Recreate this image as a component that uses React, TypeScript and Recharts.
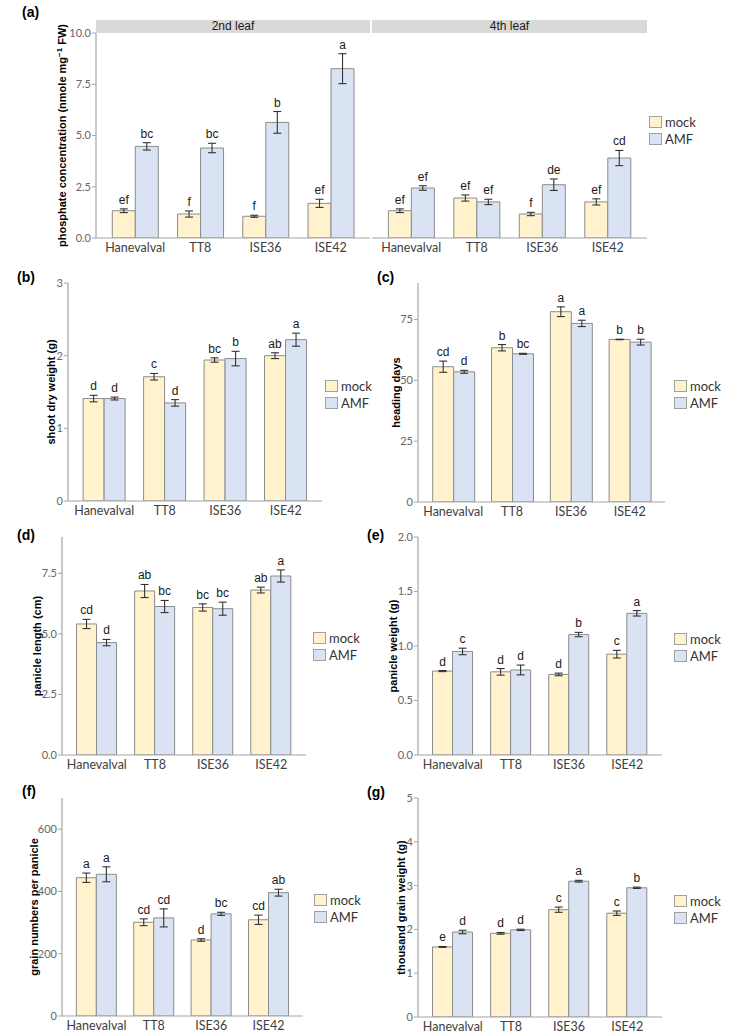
import type { ReactNode } from "react"
import { BarChart, Bar, XAxis, YAxis, ErrorBar, LabelList } from "recharts"

const genotypes = ["Hanevalval", "TT8", "ISE36", "ISE42"]

// (a) phosphate, 2nd leaf
const pi2Mock = [1.33, 1.17, 1.06, 1.69]
const pi2MockSe = [0.09, 0.15, 0.05, 0.2]
const pi2Amf = [4.47, 4.39, 5.64, 8.26]
const pi2AmfSe = [0.18, 0.23, 0.53, 0.73]
const pi2MockSig = ["ef", "f", "f", "ef"]
const pi2AmfSig = ["bc", "bc", "b", "a"]

// (a) phosphate, 4th leaf
const pi4Mock = [1.33, 1.95, 1.17, 1.76]
const pi4MockSe = [0.09, 0.15, 0.08, 0.15]
const pi4Amf = [2.44, 1.76, 2.6, 3.9]
const pi4AmfSe = [0.11, 0.13, 0.28, 0.37]
const pi4MockSig = ["ef", "ef", "f", "ef"]
const pi4AmfSig = ["ef", "ef", "de", "cd"]

// (b) shoot dry weight
const sdwMock = [1.41, 1.71, 1.94, 2.0]
const sdwMockSe = [0.045, 0.045, 0.03, 0.04]
const sdwAmf = [1.41, 1.35, 1.96, 2.22]
const sdwAmfSe = [0.02, 0.045, 0.1, 0.09]
const sdwMockSig = ["d", "c", "bc", "ab"]
const sdwAmfSig = ["d", "d", "b", "a"]

// (c) heading days
const hdMock = [55.6, 63.4, 78.2, 66.8]
const hdMockSe = [2.3, 1.3, 2.0, 0.1]
const hdAmf = [53.5, 60.9, 73.4, 65.7]
const hdAmfSe = [0.6, 0.2, 1.3, 1.2]
const hdMockSig = ["cd", "b", "a", "b"]
const hdAmfSig = ["d", "bc", "a", "b"]

// (d) panicle length
const plMock = [5.41, 6.77, 6.09, 6.81]
const plMockSe = [0.19, 0.27, 0.15, 0.12]
const plAmf = [4.64, 6.13, 6.04, 7.39]
const plAmfSe = [0.13, 0.25, 0.27, 0.25]
const plMockSig = ["cd", "ab", "bc", "ab"]
const plAmfSig = ["d", "bc", "bc", "a"]

// (e) panicle weight
const pwMock = [0.77, 0.763, 0.739, 0.925]
const pwMockSe = [0.005, 0.03, 0.012, 0.035]
const pwAmf = [0.95, 0.78, 1.105, 1.3]
const pwAmfSe = [0.03, 0.045, 0.02, 0.025]
const pwMockSig = ["d", "d", "d", "c"]
const pwAmfSig = ["c", "d", "b", "a"]

// (f) grain numbers per panicle
const gnMock = [444, 301, 244, 309]
const gnMockSe = [15, 11, 4, 15]
const gnAmf = [455, 315, 328, 396]
const gnAmfSe = [24, 29, 5, 11]
const gnMockSig = ["a", "cd", "d", "cd"]
const gnAmfSig = ["a", "cd", "bc", "ab"]

// (g) thousand grain weight
const tgwMock = [1.6, 1.91, 2.45, 2.37]
const tgwMockSe = [0.01, 0.02, 0.06, 0.05]
const tgwAmf = [1.94, 1.99, 3.1, 2.95]
const tgwAmfSe = [0.04, 0.015, 0.02, 0.015]
const tgwMockSig = ["e", "d", "c", "c"]
const tgwAmfSig = ["d", "d", "a", "b"]

const MOCK = "#fff2cc"
const AMF = "#dae3f3"
const EDGE = "#8c8c8c"
const AXIS = "#a6a6a6"
const TICK_FONT = "Lato, 'Open Sans', sans-serif"
const SANS = "'Liberation Sans', Arial, sans-serif"

type Series = { v: number[]; se: number[]; sig: string[] }

const makeRows = (mock: Series, amf: Series) =>
  genotypes.map((g, i) => ({
    name: g,
    mock: mock.v[i],
    mockSe: mock.se[i],
    amf: amf.v[i],
    amfSe: amf.se[i],
  }))

// letter placed just above the error bar, using the bar's own pixel scale
const sigLabel = (se: number[], sig: string[]) => (props: any) => {
  const { x, y, width, height, value, index } = props
  if (value == null || index == null) return null
  const ppu = Number(height) / Number(value)
  const top = Number(y) - se[index] * ppu
  return (
    <text
      x={Number(x) + Number(width) / 2}
      y={top - 5}
      textAnchor="middle"
      fontSize={12}
      fontFamily={SANS}
      fill="#1a1a1a"
    >
      {sig[index]}
    </text>
  )
}

const AxisTitle = ({ tx, ty, children }: { tx: number; ty: number; children: ReactNode }) => (
  <text
    x={tx}
    y={ty}
    transform={`rotate(-90 ${tx} ${ty})`}
    textAnchor="middle"
    fontSize={11}
    fontWeight="bold"
    fontFamily={SANS}
    fill="#000"
  >
    {children}
  </text>
)

const MT = 32
const MR = 4
const XH = 30

type PanelProps = {
  x: number
  y: number
  w: number
  h: number
  mock: Series
  amf: Series
  domain: [number, number]
  ticks: number[]
  digits: number
  title?: ReactNode
  titleX?: number
  showY?: boolean
}

const Panel = ({ x, y, w, h, mock, amf, domain, ticks, digits, title, titleX = 0, showY = true }: PanelProps) => {
  const rows = makeRows(mock, amf)
  const unit = w / 4.2
  const yw = showY ? 62 : 0
  const left = x - yw
  const top = y - MT
  return (
    <div style={{ position: "absolute", left, top }}>
      <BarChart
        width={yw + w + MR}
        height={MT + h + XH}
        data={rows}
        margin={{ top: MT, right: MR, left: 0, bottom: 0 }}
        barCategoryGap="15%"
        barGap={0}
      >
        <XAxis
          dataKey="name"
          type="category"
          padding={{ left: unit * 0.1, right: unit * 0.1 }}
          height={XH}
          axisLine={{ stroke: AXIS, strokeWidth: 1.2 }}
          tickLine={false}
          tickSize={3}
          tickMargin={2}
          tick={{ fill: "#404040", fontSize: 12.5, fontFamily: TICK_FONT }}
          interval={0}
        />
        <YAxis
          hide={!showY}
          type="number"
          domain={domain}
          ticks={ticks}
          allowDataOverflow
          width={yw}
          axisLine={{ stroke: AXIS, strokeWidth: 1.2 }}
          tickLine={{ stroke: AXIS }}
          tickSize={4}
          tickMargin={1}
          tickFormatter={(t: number) => t.toFixed(digits)}
          tick={{ fill: "#666", fontSize: 11, fontFamily: TICK_FONT }}
          label={title ? <AxisTitle tx={titleX - left} ty={MT + h / 2}>{title}</AxisTitle> : undefined}
        />
        <Bar dataKey="mock" fill={MOCK} stroke={EDGE} strokeWidth={1} isAnimationActive={false}>
          <ErrorBar dataKey="mockSe" width={4} stroke="#333" strokeWidth={1.1} direction="y" />
          <LabelList content={sigLabel(mock.se, mock.sig)} />
        </Bar>
        <Bar dataKey="amf" fill={AMF} stroke={EDGE} strokeWidth={1} isAnimationActive={false}>
          <ErrorBar dataKey="amfSe" width={4} stroke="#333" strokeWidth={1.1} direction="y" />
          <LabelList content={sigLabel(amf.se, amf.sig)} />
        </Bar>
      </BarChart>
    </div>
  )
}

const Legend = ({ x, y }: { x: number; y: number }) => (
  <div style={{ position: "absolute", left: x, top: y, fontFamily: TICK_FONT, fontSize: 13, color: "#333" }}>
    {[
      { name: "mock", fill: MOCK },
      { name: "AMF", fill: AMF },
    ].map((it, i) => (
      <div key={it.name} style={{ position: "absolute", left: 0, top: i * 17, display: "flex", alignItems: "center", whiteSpace: "nowrap" }}>
        <div style={{ width: 11, height: 10, background: it.fill, border: "1px solid #a0a0a0" }} />
        <span style={{ marginLeft: 3, lineHeight: "12px" }}>{it.name}</span>
      </div>
    ))}
  </div>
)

const Tag = ({ x, y, t }: { x: number; y: number; t: string }) => (
  <div style={{ position: "absolute", left: x, top: y, fontFamily: SANS, fontWeight: "bold", fontSize: 14, lineHeight: "16px" }}>
    {t}
  </div>
)

const Strip = ({ x, w, t }: { x: number; w: number; t: string }) => (
  <div
    style={{
      position: "absolute",
      left: x,
      top: 20,
      width: w,
      height: 13,
      background: "#d9d9d9",
      fontFamily: SANS,
      fontSize: 12,
      lineHeight: "13px",
      textAlign: "center",
      color: "#1a1a1a",
    }}
  >
    {t}
  </div>
)

const phosTitle = (
  <>
    phosphate concentration (nmole  mg
    <tspan baselineShift="super" fontSize={8}>−1</tspan>
    <tspan>  FW)</tspan>
  </>
)

export default function App() {
  return (
    <div style={{ position: "absolute", left: 0, top: 0, width: 744, height: 1031, background: "#fff", overflow: "hidden" }}>
      <Tag x={22} y={4} t="(a)" />
      <Strip x={96} w={274} t="2nd leaf" />
      <Strip x={372} w={275} t="4th leaf" />
      <Panel
        x={96} y={33} w={274} h={205}
        mock={{ v: pi2Mock, se: pi2MockSe, sig: pi2MockSig }}
        amf={{ v: pi2Amf, se: pi2AmfSe, sig: pi2AmfSig }}
        domain={[0, 10]} ticks={[0, 2.5, 5, 7.5, 10]} digits={1}
        title={phosTitle} titleX={66}
      />
      <Panel
        x={372} y={33} w={275} h={205}
        mock={{ v: pi4Mock, se: pi4MockSe, sig: pi4MockSig }}
        amf={{ v: pi4Amf, se: pi4AmfSe, sig: pi4AmfSig }}
        domain={[0, 10]} ticks={[0, 2.5, 5, 7.5, 10]} digits={1}
        showY={false}
      />
      <Legend x={649} y={116} />

      <Tag x={17} y={269} t="(b)" />
      <Panel
        x={68} y={283} w={254} h={218}
        mock={{ v: sdwMock, se: sdwMockSe, sig: sdwMockSig }}
        amf={{ v: sdwAmf, se: sdwAmfSe, sig: sdwAmfSig }}
        domain={[0, 3]} ticks={[0, 1, 2, 3]} digits={0}
        title="shoot dry weight (g)" titleX={55}
      />
      <Legend x={325} y={380} />

      <Tag x={377} y={269} t="(c)" />
      <Panel
        x={418} y={283} w={247} h={219}
        mock={{ v: hdMock, se: hdMockSe, sig: hdMockSig }}
        amf={{ v: hdAmf, se: hdAmfSe, sig: hdAmfSig }}
        domain={[0, 90]} ticks={[0, 25, 50, 75]} digits={0}
        title="heading days" titleX={400}
      />
      <Legend x={674} y={380} />

      <Tag x={17} y={527} t="(d)" />
      <Panel
        x={62} y={537} w={244} h={218}
        mock={{ v: plMock, se: plMockSe, sig: plMockSig }}
        amf={{ v: plAmf, se: plAmfSe, sig: plAmfSig }}
        domain={[0, 9]} ticks={[0, 2.5, 5, 7.5]} digits={1}
        title="panicle length (cm)" titleX={41}
      />
      <Legend x={313} y={632} />

      <Tag x={367} y={527} t="(e)" />
      <Panel
        x={418} y={537} w={244} h={218}
        mock={{ v: pwMock, se: pwMockSe, sig: pwMockSig }}
        amf={{ v: pwAmf, se: pwAmfSe, sig: pwAmfSig }}
        domain={[0, 2]} ticks={[0, 0.5, 1, 1.5, 2]} digits={1}
        title="panicle weight (g)" titleX={397}
      />
      <Legend x={674} y={633} />

      <Tag x={22} y={783} t="(f)" />
      <Panel
        x={62} y={798} w={241} h={218}
        mock={{ v: gnMock, se: gnMockSe, sig: gnMockSig }}
        amf={{ v: gnAmf, se: gnAmfSe, sig: gnAmfSig }}
        domain={[0, 700]} ticks={[0, 200, 400, 600]} digits={0}
        title="grain numbers per panicle" titleX={38}
      />
      <Legend x={314} y={894} />

      <Tag x={367} y={784} t="(g)" />
      <Panel
        x={418} y={798} w={244} h={219}
        mock={{ v: tgwMock, se: tgwMockSe, sig: tgwMockSig }}
        amf={{ v: tgwAmf, se: tgwAmfSe, sig: tgwAmfSig }}
        domain={[0, 5]} ticks={[0, 1, 2, 3, 4, 5]} digits={0}
        title="thousand grain weight (g)" titleX={405}
      />
      <Legend x={674} y={895} />
    </div>
  )
}
